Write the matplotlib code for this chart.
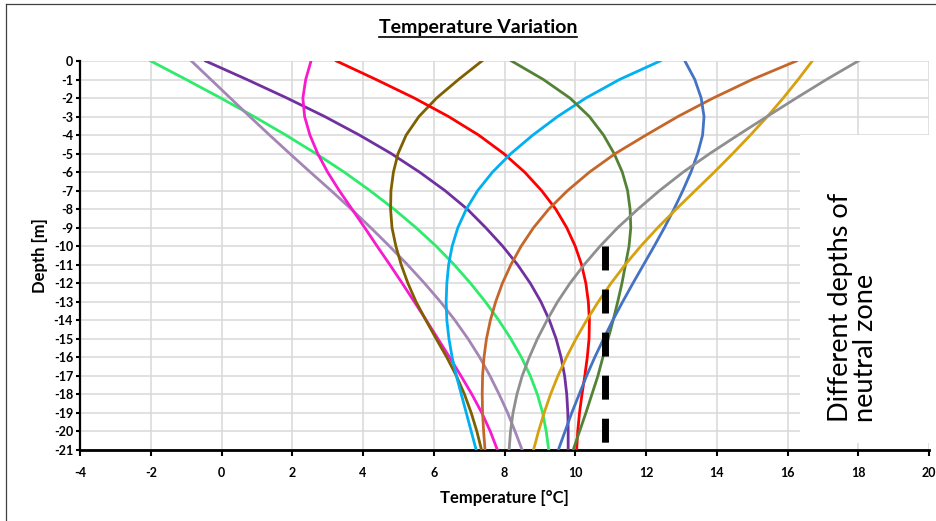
import matplotlib
matplotlib.use('Agg')
import matplotlib.pyplot as plt
from matplotlib.patches import Rectangle
from matplotlib.lines import Line2D

plt.rcParams['font.family'] = ['Lato', 'DejaVu Sans']

# ---------------- data ----------------
depths = [0, -1, -2, -3, -4, -5, -6, -7, -8, -9, -10,
          -11, -12, -13, -14, -15, -16, -17, -18, -19, -20, -21]

t_green = [-2.0, -1.0, -0.02, 0.92, 1.82, 2.67, 3.47, 4.2, 4.88, 5.5, 6.07,
           6.58, 7.04, 7.46, 7.84, 8.18, 8.48, 8.73, 8.93, 9.08, 9.18, 9.25]
t_lilac = [-0.85, -0.3, 0.25, 0.8, 1.36, 1.93, 2.51, 3.1, 3.67, 4.22, 4.75,
           5.26, 5.74, 6.19, 6.6, 6.97, 7.3, 7.59, 7.85, 8.09, 8.3, 8.5]
t_purple = [-0.45, 0.72, 1.85, 2.92, 3.9, 4.8, 5.6, 6.32, 6.95, 7.47, 7.95,
            8.37, 8.73, 9.03, 9.27, 9.46, 9.6, 9.7, 9.76, 9.79, 9.8, 9.8]
t_magenta = [2.53, 2.38, 2.3, 2.35, 2.5, 2.72, 3.0, 3.33, 3.69, 4.05, 4.4,
             4.76, 5.11, 5.45, 5.79, 6.12, 6.45, 6.77, 7.08, 7.36, 7.6, 7.8]
t_red = [3.25, 4.37, 5.45, 6.42, 7.27, 7.98, 8.57, 9.05, 9.45, 9.76, 10.0,
         10.18, 10.3, 10.37, 10.4, 10.39, 10.34, 10.27, 10.19, 10.12, 10.07, 10.04]
t_olive = [7.36, 6.7, 6.08, 5.58, 5.22, 4.99, 4.86, 4.79, 4.78, 4.82, 4.93,
           5.08, 5.27, 5.5, 5.78, 6.07, 6.37, 6.64, 6.87, 7.06, 7.22, 7.35]
t_dkgreen = [8.2, 9.1, 9.85, 10.4, 10.8, 11.1, 11.33, 11.48, 11.55, 11.57, 11.52,
             11.42, 11.32, 11.2, 11.07, 10.93, 10.78, 10.64, 10.47, 10.3, 10.12, 9.94]
t_sky = [12.4, 11.25, 10.3, 9.5, 8.8, 8.18, 7.66, 7.24, 6.92, 6.68, 6.52,
         6.42, 6.37, 6.35, 6.37, 6.43, 6.52, 6.64, 6.78, 6.92, 7.06, 7.2]
t_blue = [13.1, 13.38, 13.56, 13.64, 13.6, 13.46, 13.27, 13.04, 12.79, 12.52, 12.23,
          11.93, 11.63, 11.34, 11.06, 10.8, 10.55, 10.32, 10.11, 9.9, 9.71, 9.52]
t_orange = [16.25, 15.0, 13.9, 12.9, 12.0, 11.13, 10.4, 9.78, 9.25, 8.82, 8.47,
            8.18, 7.94, 7.75, 7.6, 7.49, 7.42, 7.38, 7.37, 7.38, 7.41, 7.45]
t_gold = [16.7, 16.3, 15.88, 15.43, 14.95, 14.45, 13.93, 13.39, 12.85, 12.33, 11.85,
          11.41, 11.01, 10.65, 10.32, 10.02, 9.75, 9.51, 9.3, 9.12, 8.96, 8.82]
t_gray = [18.0, 17.1, 16.25, 15.42, 14.6, 13.8, 13.05, 12.38, 11.77, 11.2, 10.7,
          10.25, 9.85, 9.5, 9.2, 8.93, 8.7, 8.5, 8.35, 8.24, 8.17, 8.13]

neutral_x = [10.85, 10.85]
neutral_y = [-10, -20.6]

x_ticks = [-4, -2, 0, 2, 4, 6, 8, 10, 12, 14, 16, 18, 20]
x_tick_labels = ['-4', '-2', '0', '2', '4', '6', '8', '10', '12', '14', '16', '18', '20']
y_ticks = list(range(0, -22, -1))
y_tick_labels = [str(v) for v in y_ticks]

title = 'Temperature Variation'
x_label = 'Temperature [°C]'
y_label = 'Depth [m]'
note = 'Different depths of\nneutral zone'

series = [
    (t_green, '#2EEB6C'),
    (t_lilac, '#A385B6'),
    (t_purple, '#7030A0'),
    (t_magenta, '#F71ACF'),
    (t_olive, '#7F6000'),
    (t_red, '#FF0000'),
    (t_sky, '#00B0F0'),
    (t_dkgreen, '#548235'),
    (t_orange, '#C5662B'),
    (t_blue, '#4472C4'),
    (t_gold, '#D6A10F'),
    (t_gray, '#8F8F8F'),
]

# ---------------- figure ----------------
W, H = 936, 521
fig = plt.figure(figsize=(W / 100, H / 100), dpi=100)
ax = fig.add_axes([80 / W, 1 - 450 / H, (929 - 80) / W, (450 - 61) / H])

for vals, col in series:
    ax.plot(vals, depths, color=col, lw=2.0, solid_joinstyle='round', zorder=3)

ax.plot(neutral_x, neutral_y, color='black', lw=5, linestyle=(0, (3.45, 2.75)),
        dash_capstyle='butt', zorder=4)

ax.set_xlim(-4, 20)
ax.set_ylim(-21, 0)
ax.set_xticks(x_ticks)
ax.set_xticklabels(x_tick_labels, fontsize=9, fontweight='bold')
ax.set_yticks(y_ticks)
ax.set_yticklabels(y_tick_labels, fontsize=9, fontweight='bold')
ax.grid(True, color='#D9D9D9', lw=1.1, zorder=0)
ax.set_axisbelow(True)
for s in ['top', 'right']:
    ax.spines[s].set_visible(False)
ax.spines['left'].set_linewidth(1.6)
ax.spines['bottom'].set_linewidth(2.0)
ax.tick_params(axis='y', direction='out', length=3, width=1.5, pad=2)
ax.tick_params(axis='x', direction='out', length=4, width=1.5, pad=8)

ax.set_xlabel(x_label, fontsize=12, fontweight='bold', labelpad=8)
ax.set_ylabel(y_label, fontsize=12, fontweight='bold', labelpad=4)

# white note box
fig.add_artist(Rectangle((800 / W, 1 - 443 / H), (W - 800) / W + 0.01, (443 - 135) / H,
                         transform=fig.transFigure, facecolor='white', edgecolor='none', zorder=5))
fig.text(853 / W, 1 - 422 / H, note, rotation=90, ha='center', va='bottom',
         multialignment='left', fontsize=19.5, zorder=6, linespacing=1.0)

# title with underline
t = fig.text(478 / W, 1 - 33 / H, title, ha='center', va='baseline',
             fontsize=14, fontweight='bold')
fig.canvas.draw()
bb = t.get_window_extent()
inv = fig.transFigure.inverted()
(x0, _), (x1, _) = inv.transform([(bb.x0, 0), (bb.x1, 0)])
uy = 1 - 36.5 / H
fig.add_artist(Line2D([x0, x1], [uy, uy], transform=fig.transFigure, color='black', lw=1.2))

# chart border (left & top)
fig.add_artist(Line2D([5.5 / W, 5.5 / W], [0, 1 - 3.5 / H], transform=fig.transFigure,
                      color='#404040', lw=0.9))
fig.add_artist(Line2D([5.5 / W, 1], [1 - 3.5 / H, 1 - 3.5 / H], transform=fig.transFigure,
                      color='#404040', lw=0.9))

fig.savefig('out.png', dpi=100)
